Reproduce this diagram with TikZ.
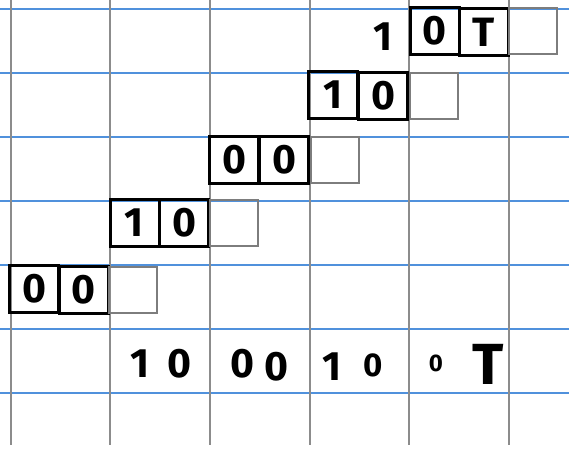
\documentclass[tikz,border=0pt]{standalone}
\usepackage{fontspec}
\setmainfont{Fira Sans}
\definecolor{gridblue}{RGB}{80,145,220}
\definecolor{gridgray}{RGB}{140,140,140}
\definecolor{boxgray}{RGB}{125,125,125}
\tikzset{
  x=1pt, y=-1pt,
  hline/.style={gridblue, line width=1.3pt},
  vline/.style={gridgray, line width=2pt},
  cellbox/.style={draw=black, line width=3pt, minimum width=49pt, minimum height=47pt, inner sep=0pt, font=\fontsize{41}{43}\selectfont\bfseries},
  emptybox/.style={draw=boxgray, line width=2pt, minimum width=48pt, minimum height=46pt, inner sep=0pt},
  digit/.style={inner sep=0pt, font=\fontsize{41}{43}\selectfont\bfseries},
  smalldigit/.style={inner sep=0pt, font=\fontsize{33}{35}\selectfont\bfseries},
  tinydigit/.style={inner sep=0pt, font=\fontsize{24}{26}\selectfont\bfseries},
  bigdigit/.style={inner sep=0pt, font=\fontsize{58}{60}\selectfont\bfseries}
}
\begin{document}
\begin{tikzpicture}
\useasboundingbox (0,0) rectangle (569,451);
\fill[white] (0,0) rectangle (569,451);
% grid
\foreach \y in {9,73,137,201,265,329,393} \draw[hline] (0,\y) -- (569,\y);
\foreach \x in {11,110,210,310,409,509} \draw[vline] (\x,0) -- (\x,445);
% row 1 (top)
\node[digit] (r1a) at (383,37) {1};
\node[cellbox] (r1b) at (434.5,31) {0};
\node[cellbox] (r1c) at (484,32) {T};
\node[emptybox] (r1d) at (533,31) {};
% row 2
\node[cellbox] (r2a) at (333,95) {1};
\node[cellbox] (r2b) at (383,96) {0};
\node[emptybox] (r2c) at (433.5,95.5) {};
% row 3
\node[cellbox] (r3a) at (234,159.5) {0};
\node[cellbox] (r3b) at (284,160) {0};
\node[emptybox] (r3c) at (334.5,160) {};
% row 4
\node[cellbox] (r4a) at (134.5,222.5) {1};
\node[cellbox] (r4b) at (184,223) {0};
\node[emptybox] (r4c) at (233.5,222.5) {};
% row 5
\node[cellbox] (r5a) at (34,289) {0};
\node[cellbox] (r5b) at (83.5,289.5) {0};
\node[emptybox] (r5c) at (133,289.5) {};
% bottom sequence
\node[digit] (s1) at (140,364) {1};
\node[digit] (s2) at (179,364) {0};
\node[digit] (s3) at (242,364) {0};
\node[digit] (s4) at (276,367) {0};
\node[digit] (s5) at (332,367) {1};
\node[smalldigit] (s6) at (373,365) {0};
\node[tinydigit] (s7) at (436,363) {0};
\node[bigdigit] (s8) at (488,364) {T};
\end{tikzpicture}
\end{document}
